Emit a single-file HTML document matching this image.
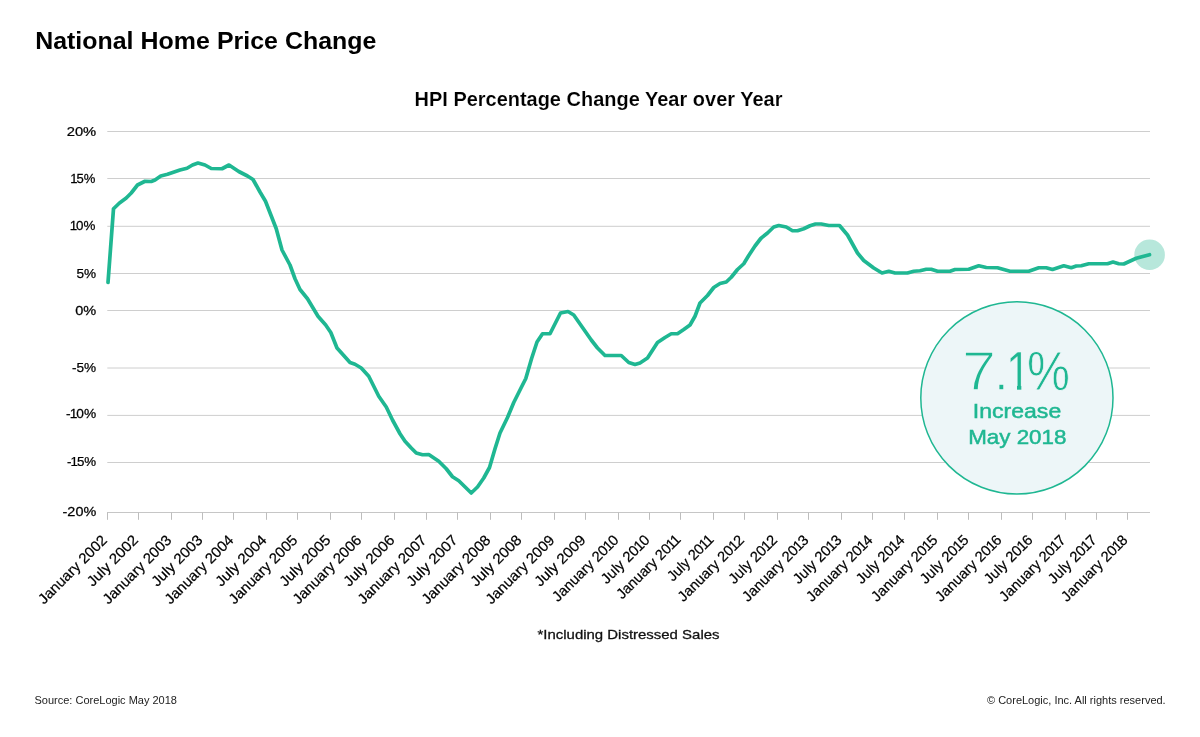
<!DOCTYPE html>
<html lang="en">
<head>
<meta charset="utf-8">
<title>National Home Price Change</title>
<style>
html,body{margin:0;padding:0;background:#fff;}
body{width:1200px;height:737px;overflow:hidden;position:relative;font-family:"Liberation Sans",sans-serif;}
svg{display:block;}
text{font-family:"Liberation Sans",sans-serif;}
.title{font-weight:700;font-size:24.9px;fill:#000;word-spacing:0.3px;}
.sub{font-weight:700;font-size:19.95px;word-spacing:0.15px;fill:#000;stroke:#fff;stroke-width:0.12px;}
.yl{font-size:13.6px;fill:#000;text-anchor:end;stroke:#000;stroke-width:0.25px;}
.xl{font-size:14.6px;fill:#000;text-anchor:end;stroke:#000;stroke-width:0.22px;}
.note{font-size:13.6px;fill:#111;stroke:#111;stroke-width:0.3px;}
.foot{font-size:11px;fill:#222;}
.big{position:absolute;left:0;top:0;width:0;height:0;font-size:56.3px;line-height:56.5px;color:#1fb792;-webkit-text-stroke:1.4px #edf6f8;white-space:nowrap;}
.big span{position:absolute;top:343.2px;display:block;transform-origin:0 0;}
.big .g7{left:962.1px;transform:scaleX(1.086);}
.big .gd{left:993.5px;}
.big .g1{left:1006.1px;transform:scaleX(0.79);-webkit-text-stroke-width:0.5px;clip-path:polygon(0 0,19.5px 0,19.5px 100%,13.9px 100%,13.9px 30px,0 30px);}
.big .gp{left:1027.2px;transform:scaleX(0.858);-webkit-text-stroke-width:0.8px;}
.med{font-size:20.8px;fill:#1fb792;text-anchor:middle;font-weight:400;stroke:#1fb792;stroke-width:0.5px;}
</style>
</head>
<body>
<svg width="1200" height="737" viewBox="0 0 1200 737">
<rect x="0" y="0" width="1200" height="737" fill="#ffffff"/>
<text class="title" transform="translate(35.2,49.3) scale(1,0.985)">National Home Price Change</text>
<text class="sub" transform="translate(414.5,106.1) scale(1,0.97)">HPI Percentage Change Year over Year</text>
<g stroke="#cecece" stroke-width="1" fill="none">
<line x1="107.3" y1="131.50" x2="1150" y2="131.50"/>
<line x1="107.3" y1="178.50" x2="1150" y2="178.50"/>
<line x1="107.3" y1="226.30" x2="1150" y2="226.30"/>
<line x1="107.3" y1="273.50" x2="1150" y2="273.50"/>
<line x1="107.3" y1="310.50" x2="1150" y2="310.50"/>
<line x1="107.3" y1="368.00" x2="1150" y2="368.00"/>
<line x1="107.3" y1="415.40" x2="1150" y2="415.40"/>
<line x1="107.3" y1="462.50" x2="1150" y2="462.50"/>
</g>
<g stroke="#bdbdbd" stroke-width="1" fill="none">
<line x1="107" y1="512.5" x2="1150" y2="512.5" stroke="#c6c6c6"/>
<line x1="107.50" y1="512.5" x2="107.50" y2="519.8"/>
<line x1="138.50" y1="512.5" x2="138.50" y2="519.8"/>
<line x1="171.50" y1="512.5" x2="171.50" y2="519.8"/>
<line x1="202.50" y1="512.5" x2="202.50" y2="519.8"/>
<line x1="233.50" y1="512.5" x2="233.50" y2="519.8"/>
<line x1="266.50" y1="512.5" x2="266.50" y2="519.8"/>
<line x1="297.50" y1="512.5" x2="297.50" y2="519.8"/>
<line x1="330.50" y1="512.5" x2="330.50" y2="519.8"/>
<line x1="361.50" y1="512.5" x2="361.50" y2="519.8"/>
<line x1="394.50" y1="512.5" x2="394.50" y2="519.8"/>
<line x1="426.50" y1="512.5" x2="426.50" y2="519.8"/>
<line x1="457.50" y1="512.5" x2="457.50" y2="519.8"/>
<line x1="490.50" y1="512.5" x2="490.50" y2="519.8"/>
<line x1="521.50" y1="512.5" x2="521.50" y2="519.8"/>
<line x1="554.50" y1="512.5" x2="554.50" y2="519.8"/>
<line x1="585.50" y1="512.5" x2="585.50" y2="519.8"/>
<line x1="618.50" y1="512.5" x2="618.50" y2="519.8"/>
<line x1="649.50" y1="512.5" x2="649.50" y2="519.8"/>
<line x1="680.50" y1="512.5" x2="680.50" y2="519.8"/>
<line x1="713.50" y1="512.5" x2="713.50" y2="519.8"/>
<line x1="744.50" y1="512.5" x2="744.50" y2="519.8"/>
<line x1="777.50" y1="512.5" x2="777.50" y2="519.8"/>
<line x1="808.50" y1="512.5" x2="808.50" y2="519.8"/>
<line x1="841.50" y1="512.5" x2="841.50" y2="519.8"/>
<line x1="872.50" y1="512.5" x2="872.50" y2="519.8"/>
<line x1="904.50" y1="512.5" x2="904.50" y2="519.8"/>
<line x1="937.50" y1="512.5" x2="937.50" y2="519.8"/>
<line x1="968.50" y1="512.5" x2="968.50" y2="519.8"/>
<line x1="1001.50" y1="512.5" x2="1001.50" y2="519.8"/>
<line x1="1032.50" y1="512.5" x2="1032.50" y2="519.8"/>
<line x1="1065.50" y1="512.5" x2="1065.50" y2="519.8"/>
<line x1="1096.50" y1="512.5" x2="1096.50" y2="519.8"/>
<line x1="1127.50" y1="512.5" x2="1127.50" y2="519.8"/>
</g>
<g>
<text class="yl" transform="translate(96.2,135.95) scale(1.085,1)">20%</text>
<text class="yl" transform="translate(96.2,183.00) scale(0.960,1)"><tspan dx="-0.80" letter-spacing="-1.10">1</tspan>5%</text>
<text class="yl" transform="translate(96.2,229.60) scale(0.985,1)"><tspan dx="-0.80" letter-spacing="-1.10">1</tspan>0%</text>
<text class="yl" transform="translate(96.2,277.80) scale(1.000,1)">5%</text>
<text class="yl" transform="translate(96.2,314.90) scale(1.070,1)">0%</text>
<text class="yl" transform="translate(96.2,371.80) scale(1.000,1)">-5%</text>
<text class="yl" transform="translate(96.2,418.40) scale(1.010,1)">-<tspan dx="-0.80" letter-spacing="-1.10">1</tspan>0%</text>
<text class="yl" transform="translate(96.2,466.20) scale(0.980,1)">-<tspan dx="-0.80" letter-spacing="-1.10">1</tspan>5%</text>
<text class="yl" transform="translate(96.2,515.90) scale(1.060,1)">-20%</text>
</g>
<g>
<text class="xl" transform="translate(108.00,541) rotate(-45) scale(1.0250,1)">January 2002</text>
<text class="xl" transform="translate(139.00,541) rotate(-45) scale(1.0500,1)">July 2002</text>
<text class="xl" transform="translate(172.50,541) rotate(-45) scale(1.0250,1)">January 2003</text>
<text class="xl" transform="translate(203.50,541) rotate(-45) scale(1.0500,1)">July 2003</text>
<text class="xl" transform="translate(234.50,541) rotate(-45) scale(1.0250,1)">January 2004</text>
<text class="xl" transform="translate(267.50,541) rotate(-45) scale(1.0500,1)">July 2004</text>
<text class="xl" transform="translate(298.50,541) rotate(-45) scale(1.0250,1)">January 2005</text>
<text class="xl" transform="translate(331.50,541) rotate(-45) scale(1.0500,1)">July 2005</text>
<text class="xl" transform="translate(362.50,541) rotate(-45) scale(1.0250,1)">January 2006</text>
<text class="xl" transform="translate(395.50,541) rotate(-45) scale(1.0500,1)">July 2006</text>
<text class="xl" transform="translate(427.50,541) rotate(-45) scale(1.0250,1)">January 2007</text>
<text class="xl" transform="translate(458.50,541) rotate(-45) scale(1.0500,1)">July 2007</text>
<text class="xl" transform="translate(491.50,541) rotate(-45) scale(1.0250,1)">January 2008</text>
<text class="xl" transform="translate(522.50,541) rotate(-45) scale(1.0500,1)">July 2008</text>
<text class="xl" transform="translate(555.50,541) rotate(-45) scale(1.0250,1)">January 2009</text>
<text class="xl" transform="translate(586.50,541) rotate(-45) scale(1.0500,1)">July 2009</text>
<text class="xl" transform="translate(619.50,541) rotate(-45) scale(1.0049,1)">January 20<tspan dx="-0.80" letter-spacing="-1.10">1</tspan>0</text>
<text class="xl" transform="translate(650.50,541) rotate(-45) scale(1.0205,1)">July 20<tspan dx="-0.80" letter-spacing="-1.10">1</tspan>0</text>
<text class="xl" transform="translate(681.00,541) rotate(-45) scale(0.9838,1)">January 20<tspan dx="-0.80" letter-spacing="-1.10">1</tspan><tspan dx="-0.80" letter-spacing="-1.10">1</tspan></text>
<text class="xl" transform="translate(714.00,541) rotate(-45) scale(0.9891,1)">July 20<tspan dx="-0.80" letter-spacing="-1.10">1</tspan><tspan dx="-0.80" letter-spacing="-1.10">1</tspan></text>
<text class="xl" transform="translate(745.00,541) rotate(-45) scale(1.0049,1)">January 20<tspan dx="-0.80" letter-spacing="-1.10">1</tspan>2</text>
<text class="xl" transform="translate(778.00,541) rotate(-45) scale(1.0205,1)">July 20<tspan dx="-0.80" letter-spacing="-1.10">1</tspan>2</text>
<text class="xl" transform="translate(809.50,541) rotate(-45) scale(1.0049,1)">January 20<tspan dx="-0.80" letter-spacing="-1.10">1</tspan>3</text>
<text class="xl" transform="translate(842.50,541) rotate(-45) scale(1.0205,1)">July 20<tspan dx="-0.80" letter-spacing="-1.10">1</tspan>3</text>
<text class="xl" transform="translate(873.50,541) rotate(-45) scale(1.0049,1)">January 20<tspan dx="-0.80" letter-spacing="-1.10">1</tspan>4</text>
<text class="xl" transform="translate(905.50,541) rotate(-45) scale(1.0205,1)">July 20<tspan dx="-0.80" letter-spacing="-1.10">1</tspan>4</text>
<text class="xl" transform="translate(938.50,541) rotate(-45) scale(1.0049,1)">January 20<tspan dx="-0.80" letter-spacing="-1.10">1</tspan>5</text>
<text class="xl" transform="translate(969.50,541) rotate(-45) scale(1.0205,1)">July 20<tspan dx="-0.80" letter-spacing="-1.10">1</tspan>5</text>
<text class="xl" transform="translate(1002.50,541) rotate(-45) scale(1.0049,1)">January 20<tspan dx="-0.80" letter-spacing="-1.10">1</tspan>6</text>
<text class="xl" transform="translate(1033.50,541) rotate(-45) scale(1.0205,1)">July 20<tspan dx="-0.80" letter-spacing="-1.10">1</tspan>6</text>
<text class="xl" transform="translate(1066.50,541) rotate(-45) scale(1.0049,1)">January 20<tspan dx="-0.80" letter-spacing="-1.10">1</tspan>7</text>
<text class="xl" transform="translate(1097.50,541) rotate(-45) scale(1.0205,1)">July 20<tspan dx="-0.80" letter-spacing="-1.10">1</tspan>7</text>
<text class="xl" transform="translate(1128.50,541) rotate(-45) scale(1.0049,1)">January 20<tspan dx="-0.80" letter-spacing="-1.10">1</tspan>8</text>
</g>
<circle cx="1149.6" cy="254.8" r="15.3" fill="#b7e7db"/>
<path d="M108.00,282.50 L113.50,208.75 L119.50,203.00 L126.25,198.00 L131.25,193.00 L137.50,185.00 L145.00,181.25 L151.25,181.50 L155.00,180.00 L160.75,176.00 L167.50,174.25 L180.00,170.00 L187.00,168.25 L192.50,165.00 L198.00,163.00 L205.00,165.00 L211.25,168.50 L222.00,168.75 L229.00,165.00 L238.75,171.50 L247.50,176.00 L253.00,179.50 L260.00,192.00 L265.50,201.25 L276.25,228.75 L282.00,250.00 L290.00,265.00 L295.00,278.75 L300.00,289.50 L307.50,298.75 L318.00,316.25 L325.70,325.00 L330.80,332.50 L337.00,348.00 L343.75,355.50 L350.00,362.50 L355.00,364.25 L361.25,368.00 L368.75,376.25 L373.75,386.25 L378.75,396.25 L386.25,407.00 L392.50,420.00 L400.00,433.75 L405.00,441.25 L411.25,448.00 L416.25,453.00 L422.50,454.75 L428.75,454.50 L438.75,461.25 L446.25,468.75 L452.50,476.75 L458.75,480.75 L471.25,493.00 L477.50,487.00 L483.75,478.00 L489.50,467.50 L495.00,448.75 L500.00,433.00 L507.50,417.50 L513.75,402.50 L521.25,387.50 L525.80,378.50 L531.60,358.50 L537.00,342.00 L542.50,333.75 L550.00,333.75 L560.50,313.00 L568.00,311.50 L573.75,315.00 L582.50,327.50 L591.25,340.00 L597.50,348.00 L605.00,355.50 L621.25,355.50 L628.75,362.50 L635.00,364.50 L640.00,363.00 L647.50,358.00 L657.50,342.50 L665.00,337.50 L671.25,333.75 L677.50,333.75 L683.75,329.50 L690.00,325.00 L695.00,316.25 L700.00,303.00 L707.50,295.50 L713.75,287.50 L720.00,283.50 L726.25,282.00 L731.25,277.25 L737.50,269.50 L743.75,263.75 L748.75,255.50 L755.00,246.00 L760.75,238.50 L767.50,233.00 L773.75,227.00 L778.75,225.50 L786.25,227.00 L792.50,230.75 L797.50,230.75 L803.75,228.75 L810.00,225.75 L815.50,224.00 L821.25,224.00 L828.75,225.50 L839.50,225.50 L847.50,235.00 L857.50,253.00 L863.75,260.50 L873.75,268.00 L882.00,273.00 L888.75,271.25 L895.00,273.00 L907.50,273.00 L913.75,271.25 L920.00,270.75 L926.25,269.25 L931.25,269.25 L937.50,271.25 L950.00,271.25 L955.00,269.50 L968.75,269.25 L978.75,265.75 L986.25,267.50 L997.50,267.75 L1010.00,271.25 L1028.75,271.25 L1038.75,267.75 L1046.25,267.75 L1052.50,269.50 L1063.75,265.75 L1071.25,267.75 L1076.25,266.00 L1081.25,265.75 L1088.75,263.75 L1107.50,263.75 L1113.00,262.00 L1118.75,263.75 L1123.75,264.00 L1136.25,258.25 L1149.50,254.75" fill="none" stroke="#1fb792" stroke-width="3.7" stroke-linejoin="round" stroke-linecap="round"/>
<circle cx="1016.9" cy="397.9" r="96.1" fill="#edf6f8" stroke="#1fb792" stroke-width="1.5"/>
<text class="med" x="1017" y="417.8" textLength="88.4" lengthAdjust="spacingAndGlyphs">Increase</text>
<text class="med" x="1017.3" y="444" textLength="98.2" lengthAdjust="spacingAndGlyphs">May 2018</text>
<text class="note" x="537.5" y="639.2" textLength="182" lengthAdjust="spacingAndGlyphs">*Including Distressed Sales</text>
<text class="foot" x="34.5" y="704.1">Source: CoreLogic May 2018</text>
<text class="foot" x="1165.7" y="704.1" text-anchor="end">© CoreLogic, Inc. All rights reserved.</text>
</svg>
<div class="big"><span class="g7">7</span><span class="gd">.</span><span class="g1">1</span><span class="gp">%</span></div>
</body>
</html>
